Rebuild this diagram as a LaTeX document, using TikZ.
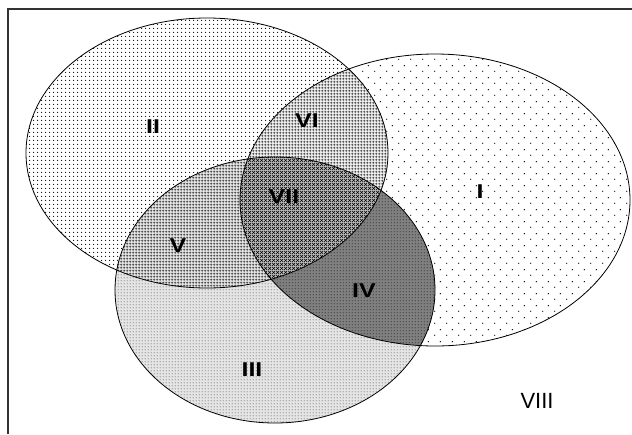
\documentclass[tikz,border=0pt]{standalone}
\usepackage{fontspec}
\setmainfont{Liberation Sans}
\newfontfamily\regionfont[FakeStretch=1.25]{Liberation Sans}
\usetikzlibrary{patterns}

% halftone fills for the regions
\pgfdeclarepatternformonly{sparse dots}{\pgfpointorigin}{\pgfpoint{12pt}{12pt}}{\pgfpoint{12pt}{12pt}}{%
  \pgfpathcircle{\pgfpoint{3pt}{3pt}}{0.75pt}%
  \pgfpathcircle{\pgfpoint{9pt}{9pt}}{0.75pt}%
  \pgfusepath{fill}}
\pgfdeclarepatternformonly{medium dots}{\pgfpointorigin}{\pgfpoint{4pt}{4pt}}{\pgfpoint{4pt}{4pt}}{%
  \pgfpathcircle{\pgfpoint{2pt}{2pt}}{0.8pt}%
  \pgfusepath{fill}}
\pgfdeclarepatternformonly{close dots}{\pgfpointorigin}{\pgfpoint{3pt}{3pt}}{\pgfpoint{3pt}{3pt}}{%
  \pgfpathcircle{\pgfpoint{1.5pt}{1.5pt}}{0.65pt}%
  \pgfusepath{fill}}
\pgfdeclarepatternformonly{fine grid}{\pgfpointorigin}{\pgfpoint{3pt}{3pt}}{\pgfpoint{3pt}{3pt}}{%
  \pgfsetlinewidth{0.35pt}%
  \pgfpathmoveto{\pgfpoint{0pt}{1.5pt}}\pgfpathlineto{\pgfpoint{3pt}{1.5pt}}%
  \pgfpathmoveto{\pgfpoint{1.5pt}{0pt}}\pgfpathlineto{\pgfpoint{1.5pt}{3pt}}%
  \pgfusepath{stroke}}
\pgfdeclarepatternformonly{fine cross}{\pgfpointorigin}{\pgfpoint{4pt}{4pt}}{\pgfpoint{4pt}{4pt}}{%
  \pgfsetlinewidth{0.6pt}%
  \pgfpathmoveto{\pgfpoint{0pt}{0pt}}\pgfpathlineto{\pgfpoint{4pt}{4pt}}%
  \pgfpathmoveto{\pgfpoint{0pt}{4pt}}\pgfpathlineto{\pgfpoint{4pt}{0pt}}%
  \pgfusepath{stroke}}

% the three sets
\def\setI{(435,200) ellipse [x radius=195, y radius=146]}
\def\setII{(207,153) ellipse [x radius=181, y radius=135]}
\def\setIII{(275,290) ellipse [x radius=160, y radius=133]}

\tikzset{
  region/.style={font=\regionfont\fontsize{20}{20}\selectfont\bfseries},
  outside/.style={font=\fontsize{22}{22}\selectfont},
  rim/.style={line width=0.8pt, black}
}

\begin{document}
\begin{tikzpicture}[x=1pt, y=-1pt]
  \useasboundingbox (0,0) rectangle (632,434);

  % Frame (top and left side only)
  \draw[line width=1.4pt, black!80] (8,434) -- (8,9) -- (632,9);

  % Single sets
  \fill[pattern=sparse dots] \setI;
  \fill[white] \setII;
  \fill[pattern=medium dots] \setII;
  \fill[white] \setIII;
  \fill[black!10] \setIII;
  \fill[pattern=close dots] \setIII;

  % VI = I and II
  \begin{scope}
    \clip \setI;
    \fill[white] \setII;
    \fill[black!6] \setII;
    \fill[pattern=fine grid] \setII;
  \end{scope}

  % V = II and III
  \begin{scope}
    \clip \setII;
    \fill[white] \setIII;
    \fill[black!10] \setIII;
    \fill[pattern=fine grid] \setIII;
  \end{scope}

  % IV = I and III
  \begin{scope}
    \clip \setI;
    \fill[black!50] \setIII;
    \fill[pattern=close dots] \setIII;
  \end{scope}

  % VII = all three
  \begin{scope}
    \clip \setI;
    \clip \setII;
    \fill[white] \setIII;
    \fill[black!26] \setIII;
    \fill[pattern=fine cross] \setIII;
  \end{scope}

  % Outlines
  \draw[rim] \setI;
  \draw[rim] \setII;
  \draw[rim] \setIII;

  % Region labels
  \node[region] (regI) at (480,192) {I};
  \node[region] (regII) at (153,127) {II};
  \node[region] (regIII) at (252,370) {III};
  \node[region] (regIV) at (364,291) {IV};
  \node[region] (regV) at (178,246) {V};
  \node[region] (regVI) at (307,121) {VI};
  \node[region] (regVII) at (284,197) {VII};
  \node[outside] (regVIII) at (537,401) {VIII};
\end{tikzpicture}
\end{document}
